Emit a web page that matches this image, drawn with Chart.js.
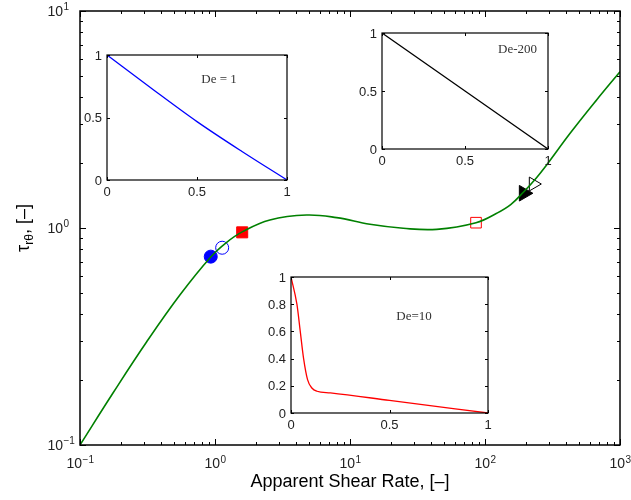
<!DOCTYPE html>
<html><head><meta charset="utf-8">
<script src="https://cdn.jsdelivr.net/npm/chart.js@4.4.1/dist/chart.umd.min.js"></script>
<style>
html,body{margin:0;padding:0;background:#fff;}
#wrap{position:relative;width:631px;height:500px;overflow:hidden;}
canvas{position:absolute;left:0;top:0;}
</style></head><body>
<div id="wrap">
<canvas id="main" width="631" height="500"></canvas>
<canvas id="in1" width="631" height="500"></canvas>
<canvas id="in2" width="631" height="500"></canvas>
<canvas id="in3" width="631" height="500"></canvas>
</div>
<script>
// ---- main curve: tau_rtheta vs apparent shear rate (log-log)
const shearRate = [0.1, 0.177, 0.312, 0.551, 0.93, 1.22, 1.59, 2.55, 4.77, 7.96, 14.06, 24.8, 43.9, 85.8, 122, 155, 194, 240, 286, 427, 671, 1000];
const stress    = [0.1, 0.175, 0.299, 0.492, 0.735, 0.859, 0.96, 1.089, 1.148, 1.116, 1.04, 0.997, 0.986, 1.058, 1.169, 1.282, 1.47, 1.70, 1.95, 2.73, 3.89, 5.25];
// ---- markers on the curve
const markBlueFilledX = [0.93],  markBlueFilledY = [0.738];
const markBlueOpenX   = [1.13],  markBlueOpenY   = [0.811];
const markRedFilledX  = [1.59],  markRedFilledY  = [0.955];
const markRedOpenX    = [85.8],  markRedOpenY    = [1.058];
const markBlackFilledX= [194],   markBlackFilledY= [1.446];
const markBlackOpenX  = [228],   markBlackOpenY  = [1.595];
// ---- main axis ticks
const mainXTicks = [0.1, 1, 10, 100, 1000];
const mainYTicks = [0.1, 1, 10];
const mainXExp = ['\u22121', '0', '1', '2', '3'];
const mainYExp = ['\u22121', '0', '1'];
// ---- inset De = 1
const in1X = [0, 0.25, 0.5, 0.75, 1];
const in1Y = [1, 0.73, 0.467, 0.228, 0];
// ---- inset De-200
const in2X = [0, 1];
const in2Y = [1, 0];
// ---- inset De=10
const in3X = [0, 0.03, 0.047, 0.064, 0.084, 0.106, 0.132, 0.2, 0.5, 1];
const in3Y = [1, 0.8, 0.6, 0.4, 0.245, 0.184, 0.16, 0.148, 0.093, 0];
const inTicks01 = [0, 0.5, 1];
const inTicks02 = [0, 0.2, 0.4, 0.6, 0.8, 1];

const SANS = '"Liberation Sans", Arial, sans-serif';
const SERIF = '"Liberation Serif", "Times New Roman", serif';
const toPts = (xs, ys) => xs.map((v, i) => ({x: v, y: ys[i]}));

function logMinor(min, max) {
  const out = [];
  for (let d = min; d < max; d *= 10) for (let k = 2; k <= 9; k++) out.push(d * k);
  return out;
}

function drawTicks(chart, o) {
  const {ctx, chartArea: a, scales: {x, y}} = chart;
  ctx.save();
  ctx.strokeStyle = '#000';
  ctx.lineWidth = 1;
  ctx.beginPath();
  const xt = (vals, len) => vals.forEach(v => {
    const p = Math.round(x.getPixelForValue(v)) + 0.5;
    ctx.moveTo(p, a.bottom); ctx.lineTo(p, a.bottom - len);
    ctx.moveTo(p, a.top); ctx.lineTo(p, a.top + len);
  });
  const yt = (vals, len) => vals.forEach(v => {
    const p = Math.round(y.getPixelForValue(v)) + 0.5;
    ctx.moveTo(a.left, p); ctx.lineTo(a.left + len, p);
    ctx.moveTo(a.right, p); ctx.lineTo(a.right - len, p);
  });
  xt(o.xMajor, o.major); yt(o.yMajor, o.major);
  if (o.xMinor) xt(o.xMinor, o.minor);
  if (o.yMinor) yt(o.yMinor, o.minor);
  ctx.stroke();
  ctx.lineWidth = o.boxLw;
  ctx.strokeRect(a.left, a.top, a.right - a.left, a.bottom - a.top);
  ctx.restore();
}

const mainPlugin = {
  id: 'mainDecor',
  afterDraw(chart) {
    const {ctx, chartArea: a, scales: {x, y}} = chart;
    drawTicks(chart, {xMajor: mainXTicks, yMajor: mainYTicks, xMinor: logMinor(0.1, 1000), yMinor: logMinor(0.1, 10), major: 6, minor: 3, boxLw: 1.5});
    ctx.save();
    ctx.fillStyle = '#222';
    ctx.textBaseline = 'alphabetic';
    mainXTicks.forEach((v, i) => {
      const px = x.getPixelForValue(v);
      ctx.font = '14px ' + SANS; const w1 = ctx.measureText('10').width;
      ctx.font = '10px ' + SANS; const w2 = ctx.measureText(mainXExp[i]).width;
      const s = px - (w1 + w2) / 2;
      ctx.font = '14px ' + SANS; ctx.textAlign = 'left'; ctx.fillText('10', s, 468);
      ctx.font = '10px ' + SANS; ctx.fillText(mainXExp[i], s + w1 + 0.5, 463);
    });
    mainYTicks.forEach((v, i) => {
      const py = y.getPixelForValue(v);
      ctx.font = '14px ' + SANS; ctx.textAlign = 'right'; ctx.fillText('10', 63, py + 5);
      ctx.font = '10px ' + SANS; ctx.textAlign = 'left'; ctx.fillText(mainYExp[i], 63.5, py - 1);
    });
    ctx.fillStyle = '#000';
    ctx.font = '18px ' + SANS; ctx.textAlign = 'center';
    ctx.fillText('Apparent Shear Rate, [\u2013]', (a.left + a.right) / 2, 487);
    ctx.translate(29, (a.top + a.bottom) / 2);
    ctx.rotate(-Math.PI / 2);
    ctx.textAlign = 'left';
    ctx.font = '18px ' + SANS; const wt = ctx.measureText('\u03c4').width; const wr = ctx.measureText(', [\u2013]').width;
    ctx.font = '12px ' + SANS; const ws = ctx.measureText('r\u03b8').width;
    let sx = -(wt + ws + wr) / 2;
    ctx.font = '18px ' + SANS; ctx.fillText('\u03c4', sx, 0); sx += wt;
    ctx.font = '12px ' + SANS; ctx.fillText('r\u03b8', sx, 4); sx += ws;
    ctx.font = '18px ' + SANS; ctx.fillText(', [\u2013]', sx, 0);
    ctx.restore();
  }
};

function pt(xs, ys, style, color, fill, r, rot) {
  return {
    type: 'scatter', data: toPts(xs, ys), showLine: false,
    pointStyle: style, pointRadius: r, pointHoverRadius: r, pointRotation: rot || 0,
    pointBorderColor: color, pointBackgroundColor: fill ? color : 'rgba(0,0,0,0)', pointBorderWidth: 1
  };
}

new Chart(document.getElementById('main'), {
  type: 'line',
  data: {
    datasets: [
      {data: toPts(shearRate, stress), borderColor: '#008000', borderWidth: 1.6, pointRadius: 0, tension: 0.4, fill: false},
      pt(markBlueFilledX, markBlueFilledY, 'circle', '#0000ff', true, 6.5),
      pt(markBlueOpenX, markBlueOpenY, 'circle', '#0000ff', false, 6.5),
      pt(markRedFilledX, markRedFilledY, 'rect', '#ff0000', true, 7.8),
      pt(markRedOpenX, markRedOpenY, 'rect', '#ff0000', false, 7.5),
      pt(markBlackFilledX, markBlackFilledY, 'triangle', '#000000', true, 9, 90),
      pt(markBlackOpenX, markBlackOpenY, 'triangle', '#000000', false, 8, 90)
    ]
  },
  options: {
    responsive: false, animation: false, devicePixelRatio: 1,
    layout: {padding: {left: 80, top: 11, right: 11, bottom: 55}},
    plugins: {legend: {display: false}, tooltip: {enabled: false}},
    scales: {
      x: {type: 'logarithmic', min: 0.1, max: 1000, display: false},
      y: {type: 'logarithmic', min: 0.1, max: 10, display: false}
    }
  },
  plugins: [mainPlugin]
});

function inset(id, box, xs, ys, color, yTicks, yLabels, label, lx, ly, align) {
  const plugin = {
    id: 'insetDecor' + id,
    beforeDatasetsDraw(chart) {
      const {ctx, chartArea: a} = chart;
      ctx.save(); ctx.fillStyle = '#fff';
      ctx.fillRect(a.left, a.top, a.right - a.left, a.bottom - a.top);
      ctx.restore();
    },
    afterDraw(chart) {
      const {ctx, chartArea: a, scales: {x, y}} = chart;
      drawTicks(chart, {xMajor: inTicks01, yMajor: yTicks, major: 3, boxLw: 1.2});
      ctx.save();
      ctx.fillStyle = '#222';
      ctx.font = '13px ' + SANS;
      ctx.textAlign = 'center'; ctx.textBaseline = 'top';
      inTicks01.forEach(v => ctx.fillText(String(v), x.getPixelForValue(v), a.bottom + 6));
      ctx.textAlign = 'right'; ctx.textBaseline = 'middle';
      yTicks.forEach((v, i) => ctx.fillText(yLabels[i], a.left - 5, y.getPixelForValue(v) + 1));
      ctx.fillStyle = '#333';
      ctx.font = '13px ' + SERIF; ctx.textAlign = align; ctx.textBaseline = 'alphabetic';
      ctx.fillText(label, lx, ly);
      ctx.restore();
    }
  };
  new Chart(document.getElementById(id), {
    type: 'line',
    data: {datasets: [{data: toPts(xs, ys), borderColor: color, borderWidth: 1.3, pointRadius: 0, cubicInterpolationMode: 'monotone', fill: false}]},
    options: {
      responsive: false, animation: false, devicePixelRatio: 1,
      layout: {padding: {left: box[0], top: box[1], right: 631 - box[2], bottom: 500 - box[3]}},
      plugins: {legend: {display: false}, tooltip: {enabled: false}},
      scales: {
        x: {type: 'linear', min: 0, max: 1, display: false},
        y: {type: 'linear', min: 0, max: 1, display: false}
      }
    },
    plugins: [plugin]
  });
}

inset('in1', [107, 55, 287, 180], in1X, in1Y, '#0000ff', inTicks01, ['0', '0.5', '1'], 'De = 1', 219, 83, 'center');
inset('in2', [382, 33, 548, 149], in2X, in2Y, '#000000', inTicks01, ['0', '0.5', '1'], 'De-200', 537, 53, 'right');
inset('in3', [291, 277, 488, 413], in3X, in3Y, '#ff0000', inTicks02, ['0', '0.2', '0.4', '0.6', '0.8', '1'], 'De=10', 414, 320, 'center');
</script>
</body></html>
